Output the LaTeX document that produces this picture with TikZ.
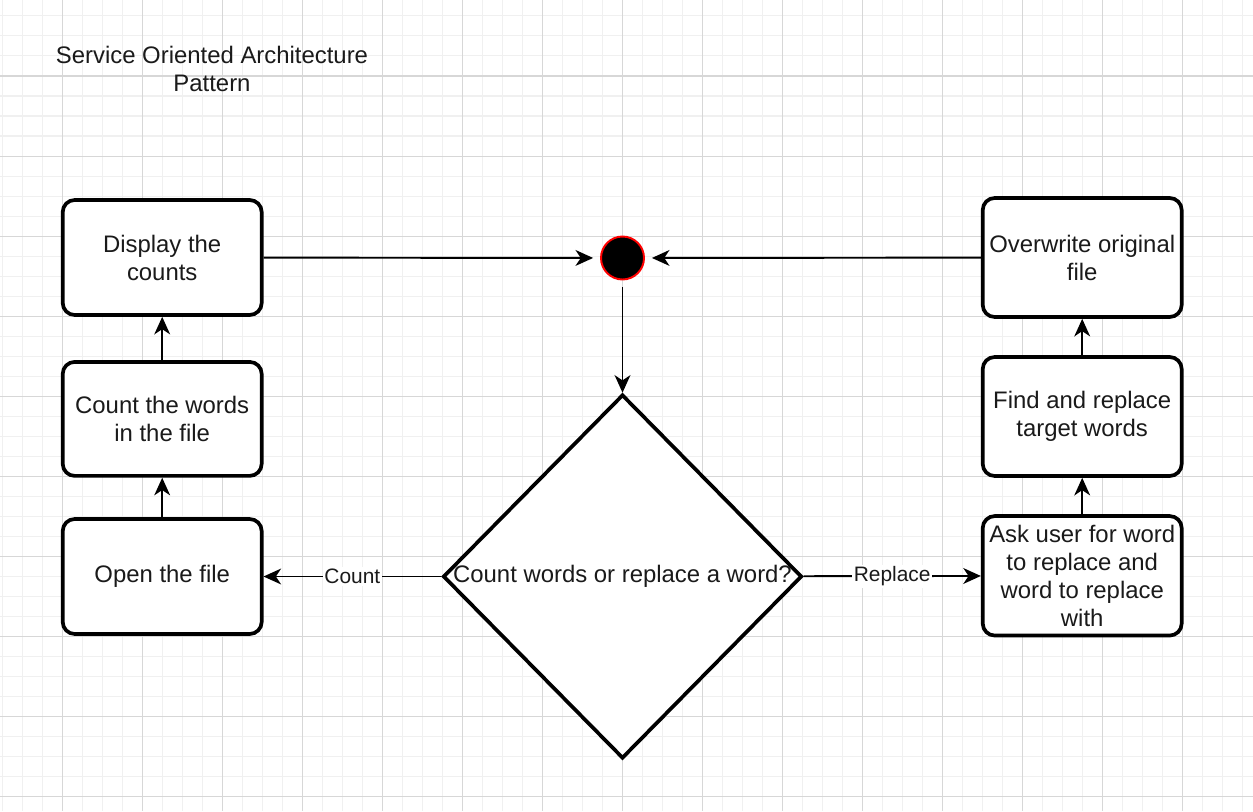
\documentclass[tikz,border=0pt]{standalone}
\usepackage{fontspec}
\setmainfont{Liberation Sans}
\usepackage{tikz}
\usetikzlibrary{positioning, shapes.geometric, arrows.meta}
\tikzstyle{canvas} = [x = 0.02cm, y = -0.02cm]
\definecolor{minorGridColor}{RGB}{240,240,240}
\definecolor{majorGridColor}{RGB}{215,215,215}
\definecolor{textColor}{RGB}{26,26,26}
\newcommand{\boxFont}{\fontsize{13.6}{15.9}\selectfont}
\newcommand{\labelFont}{\fontsize{11.9}{14}\selectfont}
\tikzstyle{minorGrid} = [color=minorGridColor, line width=0.57pt]
\tikzstyle{majorGrid} = [color=majorGridColor, line width=0.57pt]
\tikzstyle{processBox} = [draw=black, fill=white, line width=2.1pt, rounded corners=0.24cm, minimum width=3.98cm, align=center, text=textColor, font=\boxFont, inner sep=2pt]
\tikzstyle{decisionBox} = [diamond, draw=black, fill=white, line width=2.1pt, minimum width=7.18cm, minimum height=7.28cm, inner sep=0pt, text=textColor, font=\boxFont]
\tikzstyle{endPoint} = [circle, draw=red, fill=black, line width=1.1pt, minimum size=0.86cm, inner sep=0pt, outer sep=4.5pt]
\tikzstyle{flowArrow} = [-{Stealth[length=10pt, width=9pt, inset=3pt]}, line width=1.1pt]
\tikzstyle{edgeLabel} = [fill=white, text=textColor, font=\labelFont, inner sep=1pt, midway]
\tikzstyle{titleText} = [align=center, text=textColor, font=\boxFont]

\begin{document}
\begin{tikzpicture}[canvas]
  \useasboundingbox [fill=white] (0,0) rectangle (1253,811);
  % background grid
  \foreach \col in {2.7,22.7,...,1242.7} {
    \draw [minorGrid] (\col,0) -- (\col,811);
  }
  \foreach \row in {16,36,...,796} {
    \draw [minorGrid] (0,\row) -- (1253,\row);
  }
  \foreach \col in {62.7,142.7,...,1222.7} {
    \draw [majorGrid] (\col,0) -- (\col,811);
  }
  \foreach \row in {76,156,...,796} {
    \draw [majorGrid] (0,\row) -- (1253,\row);
  }

  \node [titleText] (title) at (212, 69) {Service Oriented Architecture\\Pattern};

  % count branch
  \node [processBox, minimum height=2.3cm] (dispCounts) at (162.2, 257.5) {Display the\\counts};
  \node [processBox, minimum height=2.28cm] (countWords) at (162.2, 418.9) {Count the words\\in the file};
  \node [processBox, minimum height=2.3cm] (openFile) at (162.2, 576.5) {Open the file};

  % replace branch
  \node [processBox, minimum height=2.38cm] (overwriteFile) at (1082.2, 257.5) {Overwrite original\\file};
  \node [processBox, minimum height=2.38cm] (findReplace) at (1082.2, 416.5) {Find and replace\\target words};
  \node [processBox, minimum height=2.39cm] (askUser) at (1082.2, 575.8) {Ask user for word\\to replace and\\word to replace\\with};

  \node [endPoint] (endDot) at (622.5, 258) {};
  \node [decisionBox] (choice) at (622.5, 576.5) {\makebox[0pt]{\raisebox{-1.7pt}{Count words or replace a word?}}};

  \draw [flowArrow] (dispCounts) -- (endDot);
  \draw [flowArrow] (overwriteFile) -- (endDot);
  \draw [flowArrow] (endDot) -- (choice);
  \draw [flowArrow] (choice) -- node [edgeLabel] (countLabel) {Count} (openFile);
  \draw [flowArrow] (choice) -- node [edgeLabel] (replaceLabel) {Replace} (askUser);
  \draw [flowArrow] (openFile) -- (countWords);
  \draw [flowArrow] (countWords) -- (dispCounts);
  \draw [flowArrow] (askUser) -- (findReplace);
  \draw [flowArrow] (findReplace) -- (overwriteFile);
\end{tikzpicture}
\end{document}
